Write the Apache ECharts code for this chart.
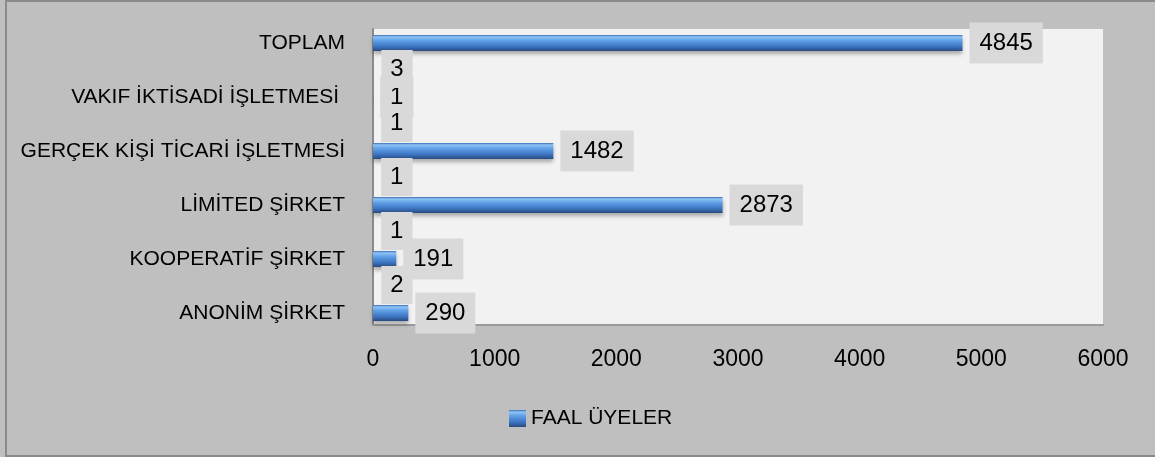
<!DOCTYPE html>
<html>
<head>
<meta charset="utf-8">
<script src="https://cdn.jsdelivr.net/npm/echarts@6/dist/echarts.min.js"></script>
<style>
    html, body { margin: 0; padding: 0; background: #bfbfbf; }
    #wrap { position: relative; width: 1155px; height: 457px; overflow: hidden; }
    #chart { position: absolute; left: 0; top: 0; width: 1155px; height: 457px; }
    #frame { position: absolute; left: 5px; top: 0; width: 1160px; height: 457px;
             border-left: 2px solid #8a8a8a; border-top: 2px solid #8a8a8a; border-bottom: 2px solid #8a8a8a;
             box-sizing: border-box; pointer-events: none; }
</style>
</head>
<body>
<div id="wrap">
    <div id="chart"></div>
    <div id="frame"></div>
</div>
<script>
// kategoriler (alttan üste)
var categories = ['ANONİM ŞİRKET', 'KOOPERATİF ŞİRKET', 'LİMİTED ŞİRKET', 'GERÇEK KİŞİ TİCARİ İŞLETMESİ', 'VAKIF İKTİSADİ İŞLETMESİ ', 'TOPLAM'];
var faalUyeler = [290, 191, 2873, 1482, 1, 4845];
// ikinci seri: sadece etiketleri görünüyor
var digerSeri = [2, 1, 1, 1, 3, null];
var xTicks = { min: 0, max: 6000, interval: 1000 };

var font = "'Liberation Sans', Arial, sans-serif";

(function() {
    var chart = echarts.init(document.getElementById('chart'));

    var barColor = new echarts.graphic.LinearGradient(0, 0, 0, 1, [
        { offset: 0, color: '#3b6db3' },
        { offset: 0.12, color: '#8fc4f6' },
        { offset: 0.35, color: '#5f9fe6' },
        { offset: 0.7, color: '#3e77c4' },
        { offset: 1, color: '#284b80' }
    ]);

    var option = {
        backgroundColor: '#bfbfbf',
        textStyle: { fontFamily: font },
        legend: {
            data: ['FAAL ÜYELER'],
            left: 504,
            top: 403,
            itemWidth: 17,
            itemHeight: 17,
            itemGap: 7,
            icon: 'rect',
            textStyle: { fontSize: 21, color: '#000', fontFamily: font }
        },
        grid: [{
            // çizim alanı arka planı
            left: 373, right: 52, top: 29, height: 296,
            show: true, backgroundColor: '#f2f2f2', borderWidth: 0
        }, {
            // çubuklar
            left: 373, right: 52, top: 16, height: 324
        }],
        xAxis: [{
            gridIndex: 0,
            type: 'value',
            min: xTicks.min, max: xTicks.max, interval: xTicks.interval,
            splitLine: { show: false },
            axisTick: { show: false },
            axisLine: { show: true, lineStyle: { color: '#9a9a9a', width: 2 } },
            axisLabel: {
                fontSize: 23, color: '#000', margin: 23, fontFamily: font,
                formatter: function(v) { return String(v); }
            }
        }, {
            gridIndex: 1,
            type: 'value',
            min: xTicks.min, max: xTicks.max,
            show: false
        }],
        yAxis: [{
            gridIndex: 0,
            type: 'category',
            data: categories,
            axisLabel: { show: false },
            axisTick: { show: false },
            axisLine: { show: true, lineStyle: { color: '#8a8a8a', width: 2 } }
        }, {
            gridIndex: 1,
            type: 'category',
            data: categories,
            axisTick: { show: false },
            axisLine: { show: false },
            axisLabel: { fontSize: 21, color: '#000', margin: 28, fontFamily: font }
        }],
        series: [{
            name: 'FAAL ÜYELER',
            type: 'bar',
            xAxisIndex: 1,
            yAxisIndex: 1,
            barWidth: 16,
            data: faalUyeler,
            itemStyle: {
                color: barColor,
                shadowColor: 'rgba(0,0,0,0.3)',
                shadowBlur: 4,
                shadowOffsetY: 3
            },
            label: {
                show: true,
                position: 'right',
                distance: 7,
                fontSize: 24,
                lineHeight: 25,
                color: '#000',
                fontFamily: font,
                backgroundColor: '#d9d9d9',
                padding: [8, 10]
            },
            z: 2
        }, {
            name: 'diğer',
            type: 'bar',
            xAxisIndex: 1,
            yAxisIndex: 1,
            barWidth: 16,
            barGap: '-100%',
            data: digerSeri,
            itemStyle: { color: 'rgba(0,0,0,0)' },
            label: {
                show: true,
                position: 'right',
                distance: 8,
                offset: [0, -28],
                fontSize: 24,
                lineHeight: 26,
                color: '#000',
                fontFamily: font,
                backgroundColor: '#d9d9d9',
                padding: [6, 9]
            },
            z: 3
        }]
    };

    chart.setOption(option);

    window.addEventListener('resize', function() {
        chart.resize();
    });
}());
</script>
</body>
</html>
